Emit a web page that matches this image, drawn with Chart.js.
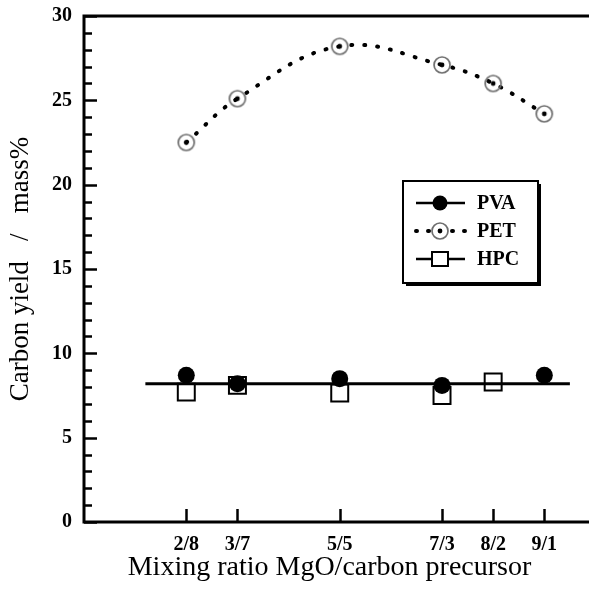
<!DOCTYPE html>
<html>
<head>
<meta charset="utf-8">
<script src="https://cdn.jsdelivr.net/npm/chart.js@4.4.1/dist/chart.umd.min.js"></script>
<style>
  body { margin: 0; background: #fff; }
  canvas { display: block; }
</style>
</head>
<body>
<canvas id="yieldChart" width="589" height="593"></canvas>
<script>
// MgO / carbon precursor mixing ratios (as MgO fraction) and their labels
const ratios = [0.2, 0.3, 0.5, 0.7, 0.8, 0.9];
const ratioLabels = ['2/8', '3/7', '5/5', '7/3', '8/2', '9/1'];
const xMin = 0, xMax = 0.96;

// carbon yield, mass%
const pvaYield = [8.7, 8.2, 8.5, 8.1, null, 8.7];
const petYield = [22.5, 25.1, 28.2, 27.1, 26.0, 24.2];
const hpcYield = [7.7, 8.1, 7.65, 7.5, 8.3, null];

// flat guide line through the PVA / HPC points
const fitRange = [0.12, 0.95];
const fitLevel = 8.2;

const yMajorTicks = [0, 5, 10, 15, 20, 25, 30];
const yMinorTicks = [1,2,3,4,6,7,8,9,11,12,13,14,16,17,18,19,21,22,23,24,26,27,28,29];

const SERIF = "'Liberation Serif', 'Times New Roman', serif";

function toPoints(ys) {
    return ratios.map((x, i) => ({ x: x, y: ys[i] })).filter(p => p.y !== null);
}

// open grey ring with a black dot in the middle (PET marker)
function ringDot() {
    const c = document.createElement('canvas');
    c.width = 22; c.height = 22;
    const g = c.getContext('2d');
    g.strokeStyle = '#6e6e6e';
    g.lineWidth = 1.7;
    g.beginPath(); g.arc(11, 11, 8, 0, Math.PI * 2); g.stroke();
    g.fillStyle = '#000';
    g.beginPath(); g.arc(11, 11, 2.4, 0, Math.PI * 2); g.fill();
    return c;
}
const petMarker = ringDot();

// frame, inward tick marks and the boxed legend
const frameAndLegend = {
    id: 'frameAndLegend',
    afterDraw(chart) {
        const ctx = chart.ctx;
        const area = chart.chartArea;
        const xs = chart.scales.x, ys = chart.scales.y;
        ctx.save();
        ctx.strokeStyle = '#000';
        ctx.lineCap = 'butt';

        // ticks
        ctx.lineWidth = 2.5;
        yMajorTicks.forEach(v => {
            const y = Math.round(ys.getPixelForValue(v)) + 0.5;
            ctx.beginPath(); ctx.moveTo(area.left, y); ctx.lineTo(area.left + 13, y); ctx.stroke();
        });
        yMinorTicks.forEach(v => {
            const y = Math.round(ys.getPixelForValue(v)) + 0.5;
            ctx.beginPath(); ctx.moveTo(area.left, y); ctx.lineTo(area.left + 8, y); ctx.stroke();
        });
        ratios.forEach(v => {
            const x = Math.round(xs.getPixelForValue(v)) + 0.5;
            ctx.beginPath(); ctx.moveTo(x, area.bottom); ctx.lineTo(x, area.bottom - 13); ctx.stroke();
        });

        // frame: left, bottom, top (runs to the canvas edge like the original)
        ctx.lineWidth = 3;
        ctx.beginPath();
        ctx.moveTo(chart.width, area.top);
        ctx.lineTo(area.left, area.top);
        ctx.lineTo(area.left, area.bottom);
        ctx.lineTo(chart.width, area.bottom);
        ctx.stroke();

        // legend box with drop shadow
        const bx = 403, by = 181, bw = 135, bh = 102;
        ctx.fillStyle = '#000';
        ctx.fillRect(bx + 3, by + 3, bw, bh);
        ctx.fillStyle = '#fff';
        ctx.fillRect(bx, by, bw, bh);
        ctx.lineWidth = 2;
        ctx.strokeRect(bx, by, bw, bh);

        const rows = [
            { y: 203, label: 'PVA', dash: [], marker: 'dot' },
            { y: 231, label: 'PET', dash: [1, 11], marker: 'ring' },
            { y: 259, label: 'HPC', dash: [], marker: 'square' }
        ];
        rows.forEach(r => {
            ctx.save();
            ctx.strokeStyle = '#000';
            if (r.dash.length) {
                ctx.lineWidth = 4; ctx.lineCap = 'round'; ctx.setLineDash(r.dash);
            } else {
                ctx.lineWidth = 2.5;
            }
            ctx.beginPath(); ctx.moveTo(416, r.y); ctx.lineTo(465, r.y); ctx.stroke();
            ctx.restore();
            if (r.marker === 'dot') {
                ctx.fillStyle = '#000';
                ctx.beginPath(); ctx.arc(440, r.y, 7.5, 0, Math.PI * 2); ctx.fill();
            } else if (r.marker === 'ring') {
                ctx.fillStyle = '#fff';
                ctx.beginPath(); ctx.arc(440, r.y, 8, 0, Math.PI * 2); ctx.fill();
                ctx.drawImage(petMarker, 440 - 11, r.y - 11);
            } else {
                ctx.fillStyle = '#fff';
                ctx.lineWidth = 2;
                ctx.fillRect(432, r.y - 7, 16, 14);
                ctx.strokeRect(432, r.y - 7, 16, 14);
            }
            ctx.fillStyle = '#000';
            ctx.font = 'bold 20px ' + SERIF;
            ctx.textBaseline = 'middle';
            ctx.textAlign = 'left';
            ctx.fillText(r.label, 477, r.y + 1);
        });
        ctx.restore();
    }
};

new Chart(document.getElementById('yieldChart'), {
    type: 'scatter',
    data: {
        datasets: [
            {
                label: 'PVA',
                data: toPoints(pvaYield),
                showLine: false,
                pointStyle: 'circle',
                pointRadius: 8.5,
                backgroundColor: '#000',
                borderColor: '#000',
                borderWidth: 0,
                order: 1
            },
            {
                label: 'fit',
                type: 'line',
                data: [{ x: fitRange[0], y: fitLevel }, { x: fitRange[1], y: fitLevel }],
                borderColor: '#000',
                borderWidth: 3,
                pointRadius: 0,
                order: 2
            },
            {
                label: 'HPC',
                data: toPoints(hpcYield),
                showLine: false,
                pointStyle: 'rect',
                pointRadius: 12,
                backgroundColor: '#fff',
                borderColor: '#000',
                borderWidth: 2,
                order: 3
            },
            {
                label: 'PET',
                type: 'line',
                data: toPoints(petYield),
                borderColor: '#000',
                borderWidth: 4,
                borderDash: [1, 12],
                borderCapStyle: 'round',
                tension: 0.4,
                pointStyle: petMarker,
                pointRadius: 9,
                order: 4
            }
        ]
    },
    options: {
        responsive: false,
        animation: false,
        devicePixelRatio: 1,
        events: [],
        layout: { padding: { top: 16, right: 0, left: 0, bottom: 0 } },
        plugins: {
            legend: { display: false },
            tooltip: { enabled: false }
        },
        scales: {
            x: {
                type: 'linear',
                min: xMin,
                max: xMax,
                grid: { display: false, drawTicks: false },
                border: { display: false },
                afterBuildTicks: scale => {
                    scale.ticks = [xMin].concat(ratios, [xMax]).map(v => ({ value: v }));
                },
                afterFit: scale => {
                    scale.height = 71;
                    scale.paddingLeft = 0;
                    scale.paddingRight = 0;
                },
                ticks: {
                    autoSkip: false,
                    maxRotation: 0,
                    padding: 11,
                    color: '#000',
                    font: { family: SERIF, size: 20, weight: 'bold' },
                    callback: v => {
                        const i = ratios.indexOf(v);
                        return i < 0 ? '' : ratioLabels[i];
                    }
                },
                title: {
                    display: true,
                    text: 'Mixing ratio MgO/carbon precursor',
                    color: '#000',
                    font: { family: SERIF, size: 28 },
                    padding: { top: 0, bottom: 9 }
                }
            },
            y: {
                min: 0,
                max: 30,
                grid: { display: false, drawTicks: false },
                border: { display: false },
                afterFit: scale => {
                    scale.width = 84;
                    scale.paddingTop = 0;
                    scale.paddingBottom = 0;
                },
                ticks: {
                    stepSize: 5,
                    padding: 12,
                    color: '#000',
                    font: { family: SERIF, size: 20, weight: 'bold' }
                },
                title: {
                    display: true,
                    text: 'Carbon yield   /   mass%',
                    color: '#000',
                    font: { family: SERIF, size: 27 },
                    padding: { top: 5, bottom: 0 }
                }
            }
        }
    },
    plugins: [frameAndLegend]
});
</script>
</body>
</html>
